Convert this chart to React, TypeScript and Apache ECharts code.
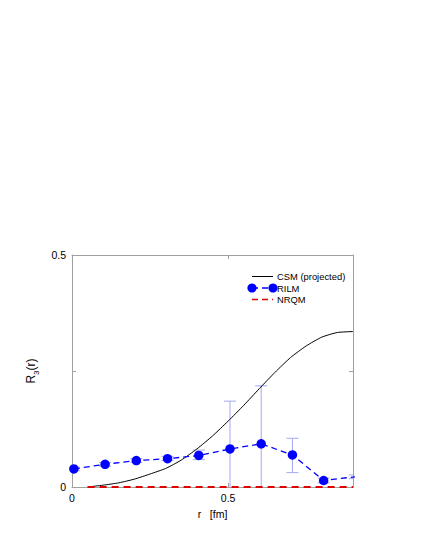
import { useEffect, useRef } from 'react'
import * as echarts from 'echarts'

// CSM (projected) curve
const csmR = [0.05, 0.1, 0.15, 0.2, 0.25, 0.3, 0.35, 0.4, 0.45, 0.5, 0.55, 0.6, 0.65, 0.7, 0.75, 0.8, 0.85, 0.9]
const csmVal = [0, 0.004, 0.009, 0.017, 0.028, 0.04, 0.058, 0.082, 0.11, 0.142, 0.176, 0.212, 0.247, 0.279, 0.304, 0.323, 0.333, 0.335]

// RILM points with error bars
const rilmR = [0.006, 0.106, 0.206, 0.306, 0.406, 0.506, 0.606, 0.706, 0.806, 0.906]
const rilmVal = [0.039, 0.049, 0.057, 0.061, 0.068, 0.082, 0.093, 0.069, 0.014, 0.022]
const rilmLow = [0.035, 0.045, 0.053, 0.057, 0.059, -0.02, -0.02, 0.031, 0.009, 0.018]
const rilmHigh = [0.043, 0.053, 0.061, 0.066, 0.0795, 0.185, 0.218, 0.105, 0.019, 0.026]

// NRQM
const nrqmR = [0.05, 0.9]
const nrqmVal = [0, 0]

const FONT = 'Liberation Sans'
const FRAME = '#a0a0a0'

const App: React.FC = () => {
  const chartRef = useRef<HTMLDivElement | null>(null)

  useEffect(() => {
    if (chartRef.current === null) return
    const chart = echarts.init(chartRef.current, undefined, { renderer: 'svg' })

    const axisCommon = {
      axisLine: { show: true, onZero: false, lineStyle: { color: FRAME, width: 1 } },
      axisTick: { show: true, inside: true, length: 4, lineStyle: { color: FRAME } },
      splitLine: { show: false }
    }

    // legend rows (drawn by hand to get the gnuplot look)
    const rowY = [276.5, 288, 299.5]
    const legendFont = `9.4px "${FONT}"`

    chart.setOption({
      animation: false,
      textStyle: { fontFamily: FONT },
      grid: { left: 72, right: 72, top: 255, bottom: 63 },
      xAxis: [
        {
          type: 'value', min: 0, max: 0.9, interval: 0.5,
          ...axisCommon,
          axisLabel: {
            color: '#000', fontSize: 10.5, margin: 5, showMaxLabel: false,
            formatter: (v: number) => (v === 0 || v === 0.5 ? String(v) : '')
          },
          name: 'r   [fm]', nameLocation: 'middle', nameGap: 21,
          nameTextStyle: { color: '#000', fontSize: 10.5, fontFamily: FONT }
        },
        {
          type: 'value', position: 'top', min: 0, max: 0.9, interval: 0.5,
          ...axisCommon,
          axisLabel: { show: false }
        }
      ],
      yAxis: [
        {
          type: 'value', min: 0, max: 0.5, interval: 0.25,
          ...axisCommon,
          axisLabel: {
            color: '#000', fontSize: 10.5, margin: 6,
            formatter: (v: number) => (v === 0.25 ? '' : String(v))
          },
          name: '{a|R}{s|3}{a|(r)}', nameLocation: 'middle', nameGap: 30, nameRotate: 90,
          nameTextStyle: {
            color: '#000', fontFamily: FONT,
            rich: {
              a: { fontSize: 12, color: '#000', fontFamily: FONT, lineHeight: 14 },
              s: { fontSize: 8, color: '#000', fontFamily: FONT, verticalAlign: 'bottom', lineHeight: 8, padding: [0, 0, -3, 0] }
            }
          }
        },
        {
          type: 'value', position: 'right', min: 0, max: 0.5, interval: 0.25,
          ...axisCommon,
          axisLabel: { show: false }
        }
      ],
      graphic: [
        { type: 'line', shape: { x1: 252, y1: rowY[0], x2: 273, y2: rowY[0] }, style: { stroke: '#000', lineWidth: 1 } },
        { type: 'text', x: 277, y: rowY[0], style: { text: 'CSM (projected)', fill: '#000', font: legendFont, textVerticalAlign: 'middle' } },
        { type: 'line', shape: { x1: 252, y1: rowY[1], x2: 273, y2: rowY[1] }, style: { stroke: '#0000ff', lineWidth: 1.3, lineDash: [6, 4] } },
        { type: 'circle', shape: { cx: 252, cy: rowY[1], r: 4.6 }, style: { fill: '#0000ff' } },
        { type: 'circle', shape: { cx: 273, cy: rowY[1], r: 4.6 }, style: { fill: '#0000ff' } },
        { type: 'text', x: 277, y: rowY[1], style: { text: 'RILM', fill: '#000', font: legendFont, textVerticalAlign: 'middle' } },
        { type: 'line', shape: { x1: 252, y1: rowY[2], x2: 273, y2: rowY[2] }, style: { stroke: '#e00000', lineWidth: 1.5, lineDash: [6, 4] } },
        { type: 'text', x: 277, y: rowY[2], style: { text: 'NRQM', fill: '#000', font: legendFont, textVerticalAlign: 'middle' } }
      ],
      series: [
        {
          name: 'RILM errors',
          type: 'custom',
          clip: true,
          z: 1,
          data: rilmR.map((r, i) => [r, rilmLow[i], rilmHigh[i]]),
          encode: { x: 0, y: [1, 2] },
          renderItem: (_params: any, api: any) => {
            const x = api.value(0)
            const lo = api.coord([x, api.value(1)])
            const hi = api.coord([x, api.value(2)])
            const w = 6
            const st = { stroke: '#a4a8f4', lineWidth: 1 }
            return {
              type: 'group',
              children: [
                { type: 'line', shape: { x1: lo[0], y1: lo[1], x2: hi[0], y2: hi[1] }, style: st },
                { type: 'line', shape: { x1: hi[0] - w, y1: hi[1], x2: hi[0] + w, y2: hi[1] }, style: st },
                { type: 'line', shape: { x1: lo[0] - w, y1: lo[1], x2: lo[0] + w, y2: lo[1] }, style: st }
              ]
            }
          }
        },
        {
          name: 'CSM (projected)',
          type: 'line',
          z: 2,
          data: csmR.map((r, i) => [r, csmVal[i]]),
          showSymbol: false,
          smooth: 0.2,
          lineStyle: { color: '#000', width: 1 },
          itemStyle: { color: '#000' }
        },
        {
          name: 'RILM',
          type: 'line',
          z: 4,
          clip: true,
          data: rilmR.map((r, i) => [r, rilmVal[i]]),
          symbol: 'circle',
          symbolSize: 9.5,
          lineStyle: { color: '#0000ff', width: 1.3, type: [6, 4] },
          itemStyle: { color: '#0000ff' }
        },
        {
          name: 'NRQM',
          type: 'line',
          z: 3,
          data: nrqmR.map((r, i) => [r, nrqmVal[i]]),
          showSymbol: false,
          lineStyle: { color: '#e00000', width: 1.8, type: [7, 5] },
          itemStyle: { color: '#e00000' }
        }
      ]
    })

    return () => {
      chart.dispose()
    }
  }, [])

  return (
    <div
      ref={chartRef}
      style={{ position: 'fixed', left: 0, top: 0, width: 425, height: 550, background: '#fff' }}
    ></div>
  )
}

export default App
